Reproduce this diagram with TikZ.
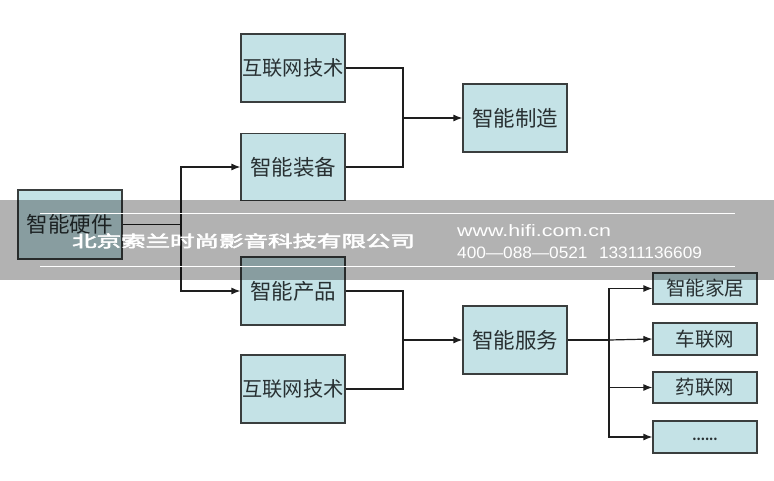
\documentclass[tikz,border=0pt]{standalone}
\usepackage{fontspec}
\setmainfont{Noto Sans CJK SC}
\newfontfamily\wmfont[FakeBold=3]{Noto Sans CJK SC}
\newfontfamily\latinfont{Liberation Sans}
\usetikzlibrary{arrows.meta}
\definecolor{boxfill}{RGB}{196,226,230}
\definecolor{boxline}{RGB}{58,62,62}
\definecolor{boxtext}{RGB}{40,48,50}
\definecolor{wire}{RGB}{30,30,30}
\begin{document}
\begin{tikzpicture}[x=1pt,y=-1pt,
  box/.style={draw=boxline, fill=boxfill, line width=1.2pt, inner sep=0pt,
    minimum width=104pt, text=boxtext, font=\fontsize{21.5}{21.5}\selectfont},
  bigbox/.style={box, minimum height=68pt},
  netbox/.style={bigbox, font=\fontsize{20.2}{20.2}\selectfont},
  smallbox/.style={box, minimum height=31pt, font=\fontsize{19.5}{19.5}\selectfont},
  wireline/.style={draw=wire, line width=1.2pt},
  arr/.style={wireline, -{Latex[length=9pt,width=7pt]}}]
\useasboundingbox (0,0) rectangle (774,480);
\fill[white] (0,0) rectangle (774,480);

% boxes
\node[bigbox, minimum height=69pt] (hw) at (70,224.5) {智能硬件};
\node[netbox] (net1) at (293,68) {互联网技术};
\node[bigbox, minimum height=67pt] (equip) at (293,167) {智能装备};
\node[bigbox] (manu) at (515,118) {智能制造};
\node[bigbox] (prod) at (293,291) {智能产品};
\node[netbox] (net2) at (293,389) {互联网技术};
\node[bigbox] (serv) at (515,340) {智能服务};
\node[smallbox] (home) at (705,288.5) {智能家居};
\node[smallbox, minimum height=32pt] (car) at (705,339) {车联网};
\node[smallbox] (med) at (705,387.5) {药联网};
\node[smallbox, minimum height=32pt] (etc) at (705,437) {\raisebox{-8pt}{\bfseries\fontsize{12}{12}\selectfont ......}};

% junctions
\coordinate (j1) at (181,224.5);
\coordinate (j2) at (403,118);
\coordinate (j3) at (403,340);
\coordinate (j4) at (609,340);

% connectors
\draw[wireline, line width=1.6pt] (hw.east) -- (j1);
\draw[arr] (j1) |- (equip.west);
\draw[arr] (j1) |- (prod.west);
\draw[wireline] (net1.east) -| (j2);
\draw[wireline] (equip.east) -| (j2);
\draw[arr] (j2) -- (manu.west);
\draw[wireline] (prod.east) -| (j3);
\draw[wireline] (net2.east) -| (j3);
\draw[arr] (j3) -- (serv.west);
\draw[wireline, line width=1.6pt] (serv.east) -- (j4);
\draw[arr] (j4) |- (home.west);
\draw[arr] (j4) -- (car.west);
\draw[arr] (j4) |- (med.west);
\draw[arr] (j4) |- (etc.west);

% watermark band
\fill[black, opacity=0.3] (0,200) rectangle (774,280);
\draw[white, line width=1pt] (40,213) -- (735,213);
\draw[white, line width=1pt] (40,266) -- (735,266);
\node[anchor=base west, inner sep=0pt, text=white, font=\wmfont\fontsize{16}{16}\selectfont] (wm) at (72,247) {\scalebox{1.53}[1]{北京索兰时尚影音科技有限公司}};
\node[anchor=base west, inner sep=0pt, text=white, font=\latinfont\fontsize{16.5}{16.5}\selectfont] (url) at (457,236) {\scalebox{1.3}[1]{www.hifi.com.cn}};
\node[anchor=base west, inner sep=0pt, text=white, font=\latinfont\fontsize{16.5}{16.5}\selectfont] (tel) at (457,258) {\scalebox{1.045}[1]{400—088—0521\hspace{11pt}13311136609}};
\end{tikzpicture}
\end{document}
